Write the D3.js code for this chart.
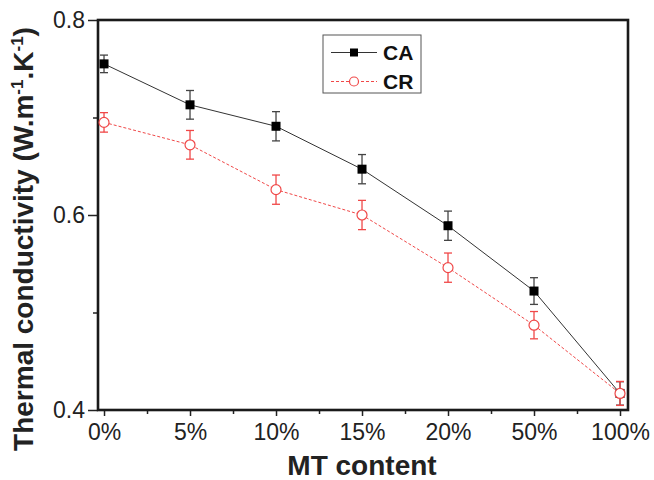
<!DOCTYPE html>
<html><head><meta charset="utf-8">
<script src="https://cdn.jsdelivr.net/npm/d3@7"></script>
<style>body{margin:0;background:#fff}svg{display:block}</style>
</head><body>
<svg id="c" width="654" height="480"></svg>
<script>
const categories = ["0%","5%","10%","15%","20%","50%","100%"];
const caValues = [0.755, 0.713, 0.691, 0.647, 0.589, 0.522, 0.417];
const caErrors = [0.009, 0.0147, 0.015, 0.015, 0.015, 0.0137, 0.012];
const crValues = [0.695, 0.672, 0.626, 0.600, 0.546, 0.487, 0.417];
const crErrors = [0.010, 0.0147, 0.015, 0.015, 0.015, 0.014, 0.0123];
const yTicks = [0.4, 0.6, 0.8];
const yMinor = [0.5, 0.7];

const svg = d3.select("#c");
const L = 98, R = 628, T = 20, B = 410;
const x = d3.scaleLinear().domain([-0.07, 6.093]).range([L, R]);
const y = d3.scaleLinear().domain([0.4, 0.8]).range([B, T]);
const font = "'Liberation Sans', Arial, sans-serif";

// axes
const xAxis = d3.axisBottom(x).tickValues(d3.range(categories.length)).tickFormat(i => categories[i]).tickSize(6).tickPadding(5);
const gx = svg.append("g").attr("transform", `translate(0,${B})`).call(xAxis);
gx.select(".domain").remove();
gx.selectAll("line").attr("stroke", "#222").attr("stroke-width", 1.5);
gx.selectAll("text").attr("font-family", font).attr("font-size", 23).attr("fill", "#222").attr("dy", null).attr("y", 29.5);
const gxm = svg.append("g").attr("transform", `translate(0,${B})`)
  .call(d3.axisBottom(x).tickValues(d3.range(categories.length - 1).map(i => i + 0.5)).tickFormat("").tickSize(4));
gxm.select(".domain").remove();
gxm.selectAll("line").attr("stroke", "#222").attr("stroke-width", 1.5);

const yAxis = d3.axisLeft(y).tickValues(yTicks).tickFormat(d3.format(".1f")).tickSize(10).tickPadding(3);
const gy = svg.append("g").attr("transform", `translate(${L},0)`).call(yAxis);
gy.select(".domain").remove();
gy.selectAll("line").attr("stroke", "#222").attr("stroke-width", 1.5);
gy.selectAll("text").attr("font-family", font).attr("font-size", 23).attr("fill", "#222");
const gym = svg.append("g").attr("transform", `translate(${L},0)`)
  .call(d3.axisLeft(y).tickValues(yMinor).tickFormat("").tickSize(5));
gym.select(".domain").remove();
gym.selectAll("line").attr("stroke", "#222").attr("stroke-width", 1.5);

// frame
svg.append("rect").attr("x", L).attr("y", T).attr("width", R - L).attr("height", B - T)
  .attr("fill", "none").attr("stroke", "#1a1a1a").attr("stroke-width", 2.6);

const line = d3.line().x((d, i) => x(i)).y(d => y(d));

const crColor = "#f04848";
svg.append("path").datum(caValues).attr("d", line).attr("fill", "none").attr("stroke", "#333").attr("stroke-width", 1);
svg.append("path").datum(crValues).attr("d", line).attr("fill", "none").attr("stroke", crColor).attr("stroke-width", 1).attr("stroke-dasharray", "3,2");

function errBars(vals, errs, color) {
  const g = svg.append("g").attr("stroke", color).attr("stroke-width", 1.3);
  vals.forEach((v, i) => {
    const xi = x(i);
    g.append("line").attr("x1", xi).attr("x2", xi).attr("y1", y(v - errs[i])).attr("y2", y(v + errs[i]));
    g.append("line").attr("x1", xi - 4).attr("x2", xi + 4).attr("y1", y(v - errs[i])).attr("y2", y(v - errs[i]));
    g.append("line").attr("x1", xi - 4).attr("x2", xi + 4).attr("y1", y(v + errs[i])).attr("y2", y(v + errs[i]));
  });
}
errBars(caValues, caErrors, "#444");
errBars(crValues, crErrors, crColor);

svg.append("g").selectAll("rect").data(caValues).join("rect")
  .attr("x", (d, i) => x(i) - 4.5).attr("y", d => y(d) - 4.5).attr("width", 9).attr("height", 9).attr("fill", "#000");
svg.append("g").selectAll("circle").data(crValues).join("circle")
  .attr("cx", (d, i) => x(i)).attr("cy", d => y(d)).attr("r", 5).attr("fill", "#fff").attr("stroke", crColor).attr("stroke-width", 1.2);

// legend
const lg = svg.append("g");
lg.append("rect").attr("x", 323).attr("y", 35).attr("width", 98).attr("height", 58).attr("fill", "#fff").attr("stroke", "#555").attr("stroke-width", 1);
lg.append("line").attr("x1", 331).attr("x2", 377).attr("y1", 52.5).attr("y2", 52.5).attr("stroke", "#333").attr("stroke-width", 1);
lg.append("rect").attr("x", 350).attr("y", 48.5).attr("width", 8).attr("height", 8).attr("fill", "#000");
lg.append("line").attr("x1", 331).attr("x2", 377).attr("y1", 81.5).attr("y2", 81.5).attr("stroke", crColor).attr("stroke-width", 1).attr("stroke-dasharray", "3,2");
lg.append("circle").attr("cx", 354).attr("cy", 81.5).attr("r", 4.5).attr("fill", "#fff").attr("stroke", crColor).attr("stroke-width", 1.2);
lg.append("text").attr("x", 383).attr("y", 60).attr("font-family", font).attr("font-weight", "bold").attr("font-size", 21).attr("fill", "#111").text("CA");
lg.append("text").attr("x", 383).attr("y", 89).attr("font-family", font).attr("font-weight", "bold").attr("font-size", 21).attr("fill", "#111").text("CR");

// axis titles
svg.append("text").attr("x", 362).attr("y", 475).attr("text-anchor", "middle")
  .attr("font-family", font).attr("font-weight", "bold").attr("font-size", 28).attr("fill", "#222").text("MT content");
const yt = svg.append("text").attr("transform", "translate(33,239) rotate(-90)").attr("text-anchor", "middle")
  .attr("font-family", font).attr("font-weight", "bold").attr("font-size", 28).attr("fill", "#222");
yt.append("tspan").text("Thermal conductivity (W.m");
yt.append("tspan").attr("dy", -10).attr("font-size", 17).text("-1");
yt.append("tspan").attr("dy", 10).text(".K");
yt.append("tspan").attr("dy", -10).attr("font-size", 17).text("-1");
yt.append("tspan").attr("dy", 10).text(")");
</script>
</body></html>
